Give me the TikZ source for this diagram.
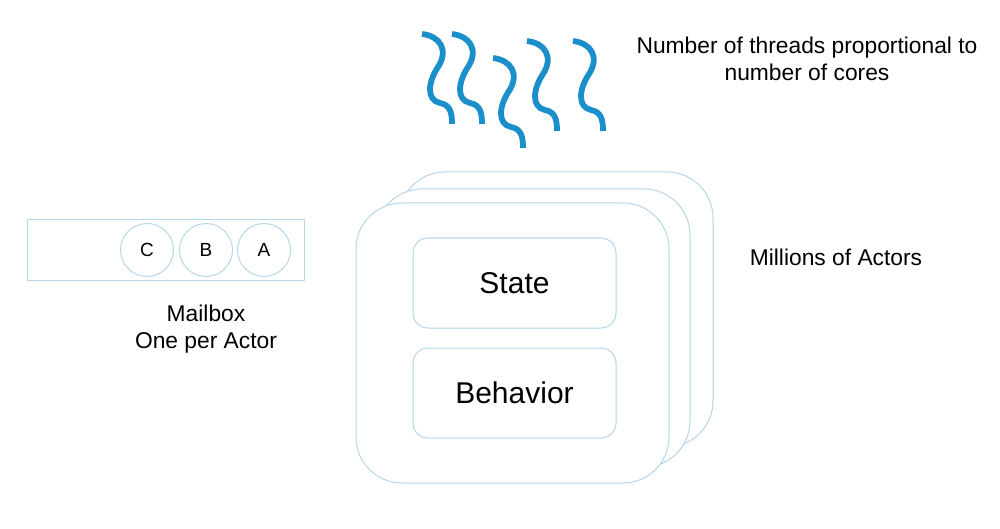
\documentclass[tikz,border=0pt]{standalone}
\usepackage{fontspec}
\setmainfont{Liberation Sans}
\definecolor{boxline}{HTML}{B5D6EB}
\definecolor{thread}{HTML}{1A8FC9}
\tikzset{
  card/.style={draw=boxline, line width=1pt, fill=white, rounded corners=46pt},
  inner/.style={draw=boxline, line width=1pt, fill=white, rounded corners=15pt, minimum width=203pt, minimum height=90pt, font=\fontsize{30}{34}\selectfont},
  msg/.style={circle, draw=boxline, line width=1pt, minimum size=53pt, inner sep=0pt, font=\fontsize{19}{21}\selectfont},
  mbox/.style={draw=boxline, line width=1pt, minimum width=277pt, minimum height=60pt, inner sep=0pt},
  lbl/.style={align=center, font=\fontsize{22.8}{26.5}\selectfont},
  threadline/.style={draw=thread, line width=5.8pt}
}
\begin{document}
\begin{tikzpicture}[x=1pt,y=-1pt]
\useasboundingbox (0,0) rectangle (1000,529);
% threads
\foreach \dx/\dy [count=\i] in {0/0, 30/0, 71/24, 105/7, 151/7}{
  \draw[threadline, shift={(\dx,\dy)}] (422,34) .. controls (440,36) and (449,50) .. (438,67)
     .. controls (428,82) and (426,100) .. (440,103)
     .. controls (450,105) and (452,112) .. (452,124);
}
\node[lbl] (threads) at (807,59) {Number of threads proportional to\\number of cores};
% actor cards
\draw[card] (399,172) rectangle (713,447);
\draw[card] (376,189) rectangle (690,467);
\draw[card] (356,203) rectangle (669,483);
\node[inner] (state) at (514.5,283) {State};
\node[inner] (behavior) at (514.5,393) {Behavior};
\node[lbl] (millions) at (836,257) {Millions of Actors};
% mailbox
\node[mbox] (mailbox) at (165.5,250) {};
\node[msg] (c) at (147,250) {C};
\node[msg] (b) at (206,250) {B};
\node[msg] (a) at (264,250) {A};
\node[lbl] (mlabel) at (206,329) {Mailbox\\One per Actor};
\end{tikzpicture}
\end{document}
